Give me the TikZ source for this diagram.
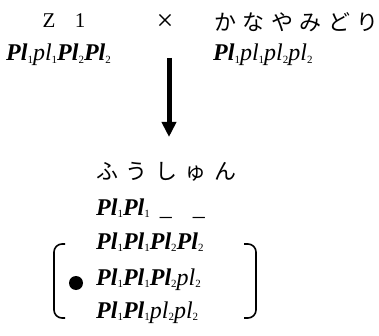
\documentclass[tikz,border=0pt]{standalone}
\usepackage{fontspec}
\setmainfont{Liberation Serif}
\newfontfamily\jp{Noto Sans CJK JP}
\usetikzlibrary{arrows.meta}
\newcommand\PB{\textbf{\textit{Pl}}}
\newcommand\pI{\textit{pl}}
\newcommand\sbx[1]{\raisebox{-0.12em}{\fontsize{11}{11}\selectfont #1}}
\newcommand\jc[1]{\makebox[28.5pt]{#1}}
\newcommand\jd[1]{\makebox[29.5pt]{#1}}
\tikzset{
  formula/.style={anchor=base west, inner sep=0pt, font=\fontsize{24}{24}\selectfont},
  jptext/.style={anchor=west, inner sep=0pt, font=\jp\fontsize{22}{22}\selectfont},
  latin/.style={anchor=base, inner sep=0pt, font=\fontsize{21}{21}\selectfont},
  brk/.style={line width=1.6pt, rounded corners=8pt},
}
\begin{document}
\begin{tikzpicture}[x=1pt,y=-1pt]
\useasboundingbox (0,0) rectangle (379,336);
% top line
\node[latin] (z) at (49,28) {Z};
\node[latin] (one) at (80,28) {1};
\node[latin, font=\fontsize{30}{30}\selectfont] (times) at (165,31) {×};
\node[jptext] (kana) at (210.75,22) {\jc{か}\jc{な}\jc{や}\jc{み}\jc{ど}\jc{り}};
% parents' genotypes
\node[formula] (g1) at (6,61) {\PB\sbx1\pI\sbx1\PB\sbx2\PB\sbx2};
\node[formula] (g2) at (213,61) {\PB\sbx1\pI\sbx1\pI\sbx2\pI\sbx2};
% arrow
\coordinate (a1) at (169,58);
\coordinate (a2) at (169,137);
\draw[line width=5pt, -{Triangle[width=14pt,length=15pt]}] (a1) -- (a2);
% offspring
\node[jptext] (fu) at (92.25,172) {\jd{ふ}\jd{う}\jd{し}\jd{ゅ}\jd{ん}};
\node[formula] (r0) at (96,215) {\PB\sbx1\PB\sbx1\hspace{10pt}\_\hspace{21pt}\_};
\node[formula] (r1) at (96,249) {\PB\sbx1\PB\sbx1\PB\sbx2\PB\sbx2};
\node[formula] (r2) at (96,285) {\PB\sbx1\PB\sbx1\PB\sbx2\pI\sbx2};
\node[formula] (r3) at (96,318) {\PB\sbx1\PB\sbx1\pI\sbx2\pI\sbx2};
\fill (76,283) circle (7);
\draw[brk] (65,244) -- (54,244) -- (54,318) -- (65,318);
\draw[brk] (244,244) -- (256,244) -- (256,318) -- (244,318);
\end{tikzpicture}
\end{document}
